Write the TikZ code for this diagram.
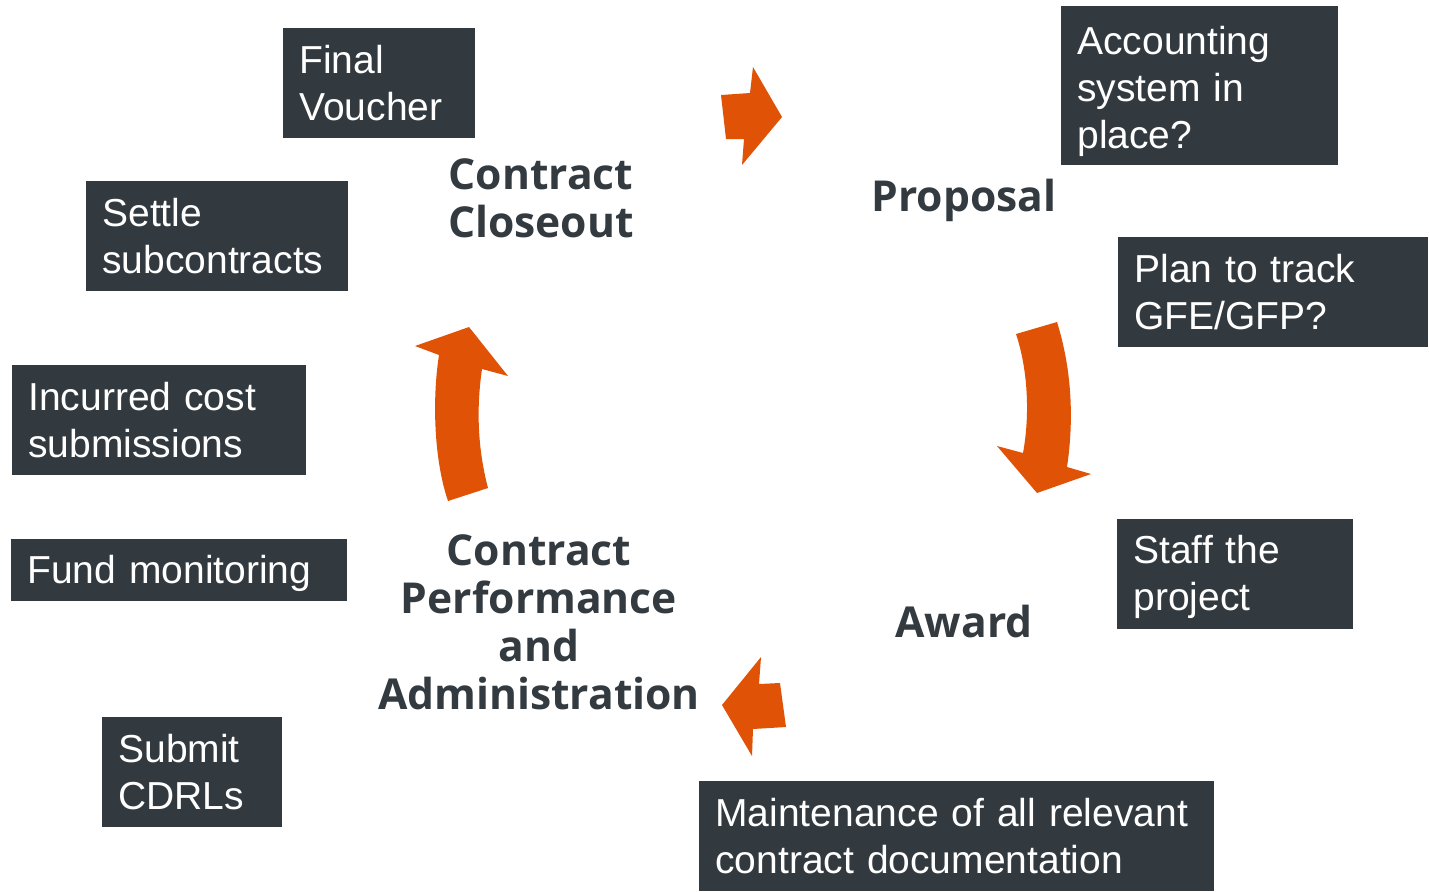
\documentclass[tikz,border=0pt]{standalone}
\usepackage{fontspec}
\setmainfont{Liberation Sans}
\newfontfamily\stagefont{Open Sans}
\definecolor{slatebox}{HTML}{333A3F}
\definecolor{stagegray}{HTML}{333B41}
\definecolor{cycleorange}{HTML}{E05206}
\begin{document}
\begin{tikzpicture}[x=0.5pt,y=-0.5pt,
    notebox/.style={fill=slatebox, text=white, anchor=north west, align=left,
      inner xsep=8pt, inner ysep=0pt, font=\fontsize{19.5}{23.5}\selectfont},
    stage/.style={text=stagegray, align=center,
      font=\stagefont\bfseries\fontsize{21.3}{24}\selectfont},
    bigarrow/.style={fill=cycleorange, draw=none}]
  \useasboundingbox (0,0) rectangle (1429,891);

  % stages of the cycle
  \node[stage] (closeout) at (541,198) {Contract\\Closeout};
  \node[stage] (proposal) at (964,200) {Proposal};
  \node[stage] (award) at (964,622) {Award};
  \node[stage] (perform) at (539,622) {Contract\\Performance\\and\\Administration};

  % task boxes
  \node[notebox, text width=80pt, minimum height=55pt] (voucher) at (283,28) {Final\\Voucher};
  \node[notebox, text width=122.5pt, minimum height=79.5pt] (acct) at (1061,6) {\rule{0pt}{19.5pt}Accounting\\system in\\place?};
  \node[notebox, text width=115pt, minimum height=55pt] (settle) at (86,181) {Settle\\subcontracts};
  \node[notebox, text width=139pt, minimum height=55pt] (gfe) at (1118,237) {Plan to track\\GFE/GFP?};
  \node[notebox, text width=131pt, minimum height=55pt] (incurred) at (12,365) {Incurred cost\\submissions};
  \node[notebox, text width=152pt, minimum height=31pt] (fund) at (11,539) {\rule{0pt}{17pt}Fund monitoring};
  \node[notebox, text width=102pt, minimum height=55pt] (staff) at (1117,519) {\rule{0pt}{17pt}Staff the\\project};
  \node[notebox, text width=74pt, minimum height=55pt] (cdrl) at (102,717) {Submit\\CDRLs};
  \node[notebox, text width=241.5pt, minimum height=55pt] (maint) at (699,781) {Maintenance of all relevant\\contract documentation};

  % cycle arrows
  \fill[bigarrow] (721,95) -- (750,93) -- (753,67) -- (782,117) -- (742,165)
    -- (744,139) -- (726,139) -- cycle;
  \fill[bigarrow] (1016,334) -- (1057,322) .. controls (1072,370) and (1074,420) .. (1067,467)
    -- (1091,474) -- (1037,493) -- (997,446) -- (1023,453)
    .. controls (1030,415) and (1028,370) .. (1016,334) -- cycle;
  \fill[bigarrow] (761,657) -- (759,684) -- (780,683) -- (786,727) -- (753,729)
    -- (752,756) -- (722,705) -- cycle;
  \fill[bigarrow] (448,501) -- (488,488) .. controls (478,450) and (476,410) .. (482,369)
    -- (508,376) -- (469,327) -- (415,346) -- (439,355)
    .. controls (432,400) and (434,460) .. (448,501) -- cycle;
\end{tikzpicture}
\end{document}
